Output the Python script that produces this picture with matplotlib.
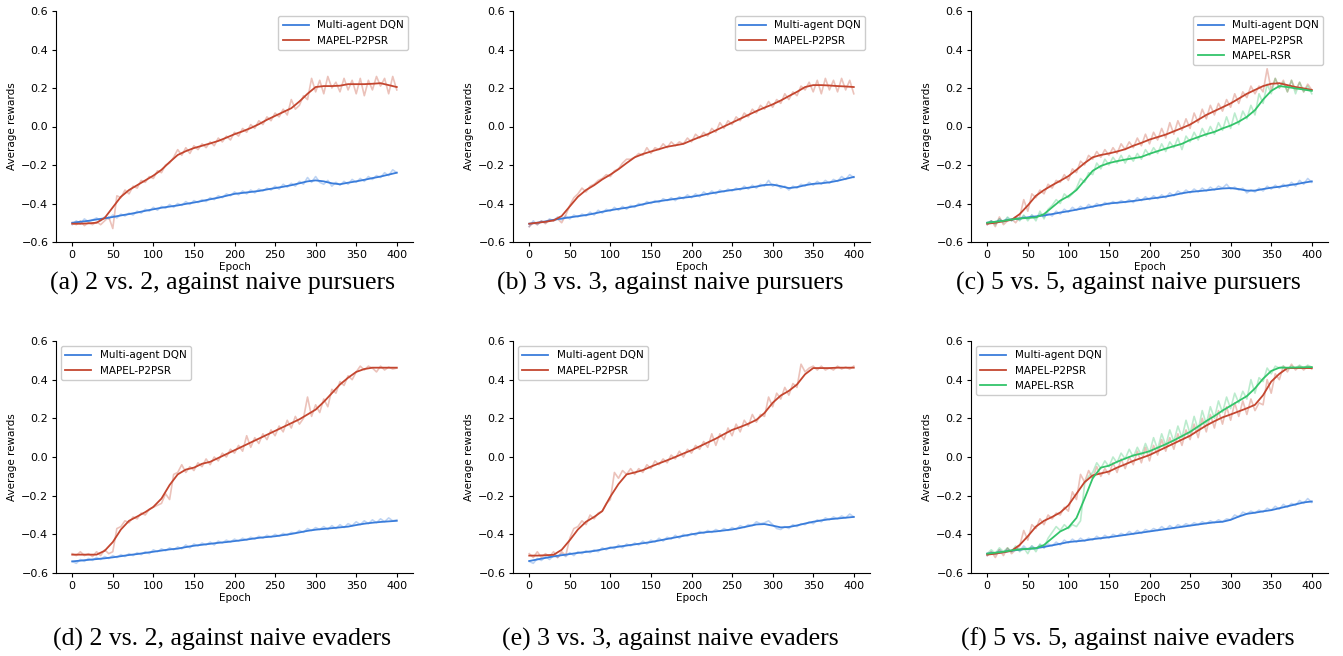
import matplotlib
matplotlib.use("Agg")
import matplotlib.pyplot as plt

EPOCHS_SMOOTH = list(range(0, 401, 10))
EPOCHS_RAW = list(range(0, 401, 5))

SERIES_NAMES = ["Multi-agent DQN", "MAPEL-P2PSR", "MAPEL-RSR"]
CAPTIONS = ["(a) 2 vs. 2, against naive pursuers", "(b) 3 vs. 3, against naive pursuers",
            "(c) 5 vs. 5, against naive pursuers", "(d) 2 vs. 2, against naive evaders",
            "(e) 3 vs. 3, against naive evaders", "(f) 5 vs. 5, against naive evaders"]
Y_TICKS = [-0.6, -0.4, -0.2, 0.0, 0.2, 0.4, 0.6]
X_TICKS = [0, 50, 100, 150, 200, 250, 300, 350, 400]

# ---------------- (a) ----------------
A_DQN_SMOOTH = [-0.500, -0.495, -0.490, -0.483, -0.477, -0.470, -0.462, -0.455, -0.447, -0.438, -0.430,
                -0.422, -0.416, -0.410, -0.402, -0.395, -0.387, -0.378, -0.370, -0.360, -0.350, -0.345,
                -0.340, -0.335, -0.327, -0.320, -0.313, -0.305, -0.295, -0.285, -0.280, -0.285, -0.295,
                -0.300, -0.292, -0.285, -0.277, -0.268, -0.260, -0.250, -0.240]
A_DQN_RAW = [-0.51, -0.49, -0.505, -0.48, -0.495, -0.485, -0.475, -0.49, -0.47, -0.48, -0.46, -0.475, -0.455,
             -0.465, -0.45, -0.46, -0.44, -0.45, -0.43, -0.44, -0.42, -0.435, -0.415, -0.425, -0.405, -0.42,
             -0.40, -0.41, -0.39, -0.405, -0.385, -0.395, -0.38, -0.39, -0.37, -0.38, -0.36, -0.37, -0.35,
             -0.36, -0.34, -0.355, -0.335, -0.35, -0.33, -0.345, -0.325, -0.335, -0.32, -0.33, -0.31, -0.325,
             -0.30, -0.315, -0.295, -0.31, -0.285, -0.30, -0.265, -0.29, -0.26, -0.29, -0.30, -0.28, -0.31,
             -0.29, -0.305, -0.285, -0.30, -0.275, -0.29, -0.27, -0.285, -0.26, -0.275, -0.255, -0.265, -0.24,
             -0.255, -0.225, -0.24]
A_P2_SMOOTH = [-0.505, -0.505, -0.503, -0.500, -0.475, -0.420, -0.365, -0.330, -0.305, -0.280, -0.255,
               -0.225, -0.185, -0.148, -0.128, -0.112, -0.100, -0.088, -0.075, -0.058, -0.040, -0.025,
               -0.008, 0.012, 0.035, 0.055, 0.075, 0.095, 0.130, 0.170, 0.205, 0.210, 0.210, 0.212, 0.220,
               0.220, 0.220, 0.222, 0.225, 0.215, 0.205]
A_P2_RAW = [-0.50, -0.51, -0.49, -0.515, -0.50, -0.51, -0.495, -0.51, -0.49, -0.47, -0.53, -0.36, -0.37,
            -0.33, -0.35, -0.31, -0.32, -0.28, -0.29, -0.26, -0.27, -0.23, -0.24, -0.20, -0.19, -0.16, -0.12,
            -0.15, -0.11, -0.14, -0.10, -0.12, -0.09, -0.11, -0.08, -0.10, -0.06, -0.08, -0.05, -0.07, -0.03,
            -0.05, -0.01, -0.03, 0.01, -0.01, 0.03, 0.01, 0.05, 0.03, 0.07, 0.05, 0.09, 0.06, 0.14, 0.09, 0.11,
            0.16, 0.14, 0.25, 0.18, 0.24, 0.17, 0.26, 0.20, 0.23, 0.18, 0.25, 0.19, 0.24, 0.17, 0.25, 0.16,
            0.24, 0.19, 0.26, 0.21, 0.25, 0.17, 0.26, 0.19]

# ---------------- (b) ----------------
B_DQN_SMOOTH = [-0.505, -0.500, -0.493, -0.485, -0.478, -0.472, -0.466, -0.460, -0.452, -0.443, -0.435,
                -0.428, -0.422, -0.414, -0.404, -0.395, -0.388, -0.382, -0.376, -0.370, -0.365, -0.358,
                -0.350, -0.343, -0.336, -0.330, -0.324, -0.318, -0.312, -0.304, -0.302, -0.310, -0.320,
                -0.315, -0.305, -0.298, -0.295, -0.290, -0.282, -0.272, -0.262]
B_DQN_RAW = [-0.52, -0.49, -0.51, -0.49, -0.50, -0.48, -0.49, -0.47, -0.485, -0.465, -0.48, -0.46, -0.47,
             -0.455, -0.465, -0.445, -0.46, -0.435, -0.45, -0.43, -0.44, -0.42, -0.435, -0.415, -0.43, -0.41,
             -0.42, -0.40, -0.41, -0.39, -0.40, -0.385, -0.395, -0.375, -0.385, -0.37, -0.385, -0.365, -0.375,
             -0.355, -0.37, -0.35, -0.365, -0.34, -0.355, -0.335, -0.35, -0.33, -0.34, -0.325, -0.335, -0.32,
             -0.33, -0.31, -0.325, -0.305, -0.32, -0.30, -0.31, -0.28, -0.31, -0.30, -0.32, -0.31, -0.33,
             -0.31, -0.32, -0.30, -0.31, -0.29, -0.305, -0.285, -0.30, -0.28, -0.295, -0.275, -0.285, -0.26,
             -0.275, -0.25, -0.265]
B_P2_SMOOTH = [-0.505, -0.500, -0.495, -0.488, -0.465, -0.415, -0.365, -0.330, -0.305, -0.275, -0.250,
               -0.222, -0.190, -0.160, -0.143, -0.130, -0.118, -0.105, -0.098, -0.090, -0.072, -0.055,
               -0.040, -0.020, 0.000, 0.020, 0.040, 0.060, 0.080, 0.098, 0.115, 0.135, 0.158, 0.180, 0.205,
               0.215, 0.215, 0.213, 0.210, 0.208, 0.205]
B_P2_RAW = [-0.52, -0.50, -0.51, -0.49, -0.505, -0.485, -0.49, -0.48, -0.50, -0.46, -0.41, -0.37, -0.35,
            -0.32, -0.34, -0.31, -0.30, -0.28, -0.27, -0.25, -0.26, -0.23, -0.22, -0.19, -0.17, -0.17, -0.16,
            -0.14, -0.15, -0.11, -0.14, -0.11, -0.12, -0.09, -0.11, -0.08, -0.10, -0.08, -0.09, -0.06, -0.08,
            -0.04, -0.06, -0.03, -0.05, -0.01, -0.03, 0.02, -0.01, 0.03, 0.01, 0.05, 0.03, 0.07, 0.05, 0.09,
            0.07, 0.11, 0.09, 0.13, 0.10, 0.14, 0.12, 0.17, 0.14, 0.18, 0.16, 0.21, 0.19, 0.23, 0.18, 0.24,
            0.17, 0.25, 0.19, 0.24, 0.18, 0.25, 0.19, 0.24, 0.17]

# ---------------- (c) ----------------
C_DQN_SMOOTH = [-0.500, -0.495, -0.490, -0.483, -0.478, -0.472, -0.467, -0.462, -0.455, -0.447, -0.440,
                -0.432, -0.424, -0.416, -0.408, -0.400, -0.396, -0.392, -0.387, -0.381, -0.375, -0.370,
                -0.364, -0.356, -0.347, -0.340, -0.336, -0.332, -0.327, -0.322, -0.320, -0.325, -0.333,
                -0.333, -0.325, -0.318, -0.313, -0.306, -0.300, -0.292, -0.285]
C_DQN_RAW = [-0.51, -0.49, -0.505, -0.48, -0.495, -0.475, -0.49, -0.47, -0.485, -0.465, -0.48, -0.46, -0.475,
             -0.455, -0.47, -0.45, -0.465, -0.44, -0.455, -0.43, -0.445, -0.42, -0.435, -0.415, -0.43, -0.405,
             -0.42, -0.40, -0.415, -0.395, -0.405, -0.39, -0.40, -0.385, -0.395, -0.38, -0.395, -0.37, -0.385,
             -0.365, -0.38, -0.36, -0.375, -0.355, -0.37, -0.345, -0.36, -0.335, -0.35, -0.33, -0.345, -0.325,
             -0.34, -0.32, -0.335, -0.315, -0.33, -0.31, -0.32, -0.30, -0.325, -0.315, -0.33, -0.32, -0.345,
             -0.33, -0.34, -0.32, -0.335, -0.31, -0.325, -0.305, -0.32, -0.30, -0.315, -0.29, -0.31, -0.28,
             -0.30, -0.27, -0.29]
C_P2_SMOOTH = [-0.505, -0.500, -0.492, -0.485, -0.455, -0.410, -0.360, -0.330, -0.305, -0.282, -0.258,
               -0.225, -0.190, -0.160, -0.148, -0.140, -0.130, -0.118, -0.100, -0.085, -0.068, -0.055,
               -0.042, -0.025, -0.008, 0.010, 0.035, 0.060, 0.080, 0.100, 0.120, 0.145, 0.170, 0.190, 0.210,
               0.222, 0.225, 0.215, 0.205, 0.198, 0.190]
C_P2_RAW = [-0.51, -0.49, -0.52, -0.47, -0.51, -0.49, -0.48, -0.50, -0.47, -0.38, -0.44, -0.35, -0.37,
            -0.33, -0.35, -0.30, -0.32, -0.28, -0.29, -0.25, -0.28, -0.22, -0.24, -0.18, -0.20, -0.15, -0.17,
            -0.13, -0.16, -0.12, -0.15, -0.11, -0.14, -0.09, -0.12, -0.08, -0.11, -0.06, -0.10, -0.04, -0.09,
            -0.03, -0.07, -0.01, -0.06, 0.02, -0.04, 0.03, -0.02, 0.04, -0.01, 0.07, 0.02, 0.09, 0.04, 0.11,
            0.06, 0.12, 0.08, 0.14, 0.10, 0.17, 0.12, 0.18, 0.15, 0.21, 0.17, 0.21, 0.18, 0.30, 0.19, 0.25,
            0.20, 0.24, 0.18, 0.24, 0.19, 0.23, 0.18, 0.22, 0.19]
C_RSR_SMOOTH = [-0.500, -0.495, -0.490, -0.483, -0.478, -0.475, -0.472, -0.455, -0.420, -0.385, -0.362,
                -0.330, -0.280, -0.230, -0.205, -0.190, -0.180, -0.172, -0.165, -0.158, -0.142, -0.128,
                -0.115, -0.102, -0.090, -0.070, -0.055, -0.040, -0.028, -0.010, 0.005, 0.025, 0.050,
                0.085, 0.140, 0.185, 0.210, 0.205, 0.198, 0.192, 0.185]
C_RSR_RAW = [-0.50, -0.49, -0.51, -0.48, -0.50, -0.47, -0.49, -0.47, -0.49, -0.46, -0.49, -0.46, -0.49,
             -0.44, -0.48, -0.43, -0.41, -0.38, -0.40, -0.35, -0.37, -0.35, -0.32, -0.27, -0.29, -0.24, -0.25,
             -0.19, -0.22, -0.17, -0.20, -0.16, -0.19, -0.15, -0.19, -0.15, -0.18, -0.14, -0.17, -0.12, -0.15,
             -0.11, -0.14, -0.09, -0.13, -0.08, -0.11, -0.06, -0.12, -0.05, -0.08, -0.03, -0.07, -0.01, -0.05,
             0.00, -0.04, 0.02, -0.02, 0.05, -0.01, 0.07, 0.01, 0.08, 0.04, 0.11, 0.06, 0.17, 0.12, 0.22,
             0.17, 0.25, 0.20, 0.23, 0.18, 0.24, 0.17, 0.23, 0.18, 0.21, 0.17]

# ---------------- (d) ----------------
D_DQN_SMOOTH = [-0.540, -0.536, -0.532, -0.528, -0.524, -0.519, -0.513, -0.507, -0.502, -0.496, -0.490,
                -0.484, -0.478, -0.474, -0.466, -0.459, -0.454, -0.449, -0.444, -0.440, -0.435, -0.430,
                -0.424, -0.418, -0.414, -0.410, -0.404, -0.398, -0.390, -0.382, -0.376, -0.372, -0.368,
                -0.364, -0.360, -0.352, -0.345, -0.340, -0.336, -0.333, -0.330]
D_DQN_RAW = [-0.54, -0.55, -0.53, -0.54, -0.525, -0.535, -0.52, -0.53, -0.515, -0.525, -0.51, -0.52, -0.505,
             -0.515, -0.50, -0.51, -0.495, -0.505, -0.49, -0.50, -0.48, -0.49, -0.475, -0.485, -0.47, -0.48,
             -0.465, -0.475, -0.455, -0.47, -0.45, -0.46, -0.445, -0.455, -0.44, -0.455, -0.435, -0.445, -0.43,
             -0.44, -0.425, -0.435, -0.42, -0.43, -0.415, -0.425, -0.41, -0.42, -0.405, -0.415, -0.40, -0.41,
             -0.395, -0.405, -0.39, -0.395, -0.38, -0.39, -0.37, -0.38, -0.365, -0.375, -0.36, -0.375, -0.355,
             -0.37, -0.35, -0.365, -0.345, -0.355, -0.335, -0.35, -0.33, -0.345, -0.325, -0.34, -0.32, -0.335,
             -0.315, -0.33, -0.325]
D_P2_SMOOTH = [-0.505, -0.505, -0.505, -0.505, -0.485, -0.440, -0.375, -0.330, -0.308, -0.285, -0.258,
               -0.215, -0.145, -0.090, -0.065, -0.055, -0.035, -0.025, -0.005, 0.015, 0.035, 0.055, 0.075,
               0.095, 0.115, 0.135, 0.155, 0.175, 0.195, 0.220, 0.245, 0.285, 0.330, 0.375, 0.410, 0.440,
               0.455, 0.462, 0.462, 0.462, 0.462]
D_P2_RAW = [-0.50, -0.51, -0.49, -0.51, -0.50, -0.515, -0.49, -0.51, -0.48, -0.50, -0.49, -0.37, -0.36,
            -0.33, -0.34, -0.31, -0.32, -0.29, -0.30, -0.27, -0.26, -0.25, -0.24, -0.19, -0.22, -0.09, -0.08,
            -0.04, -0.08, -0.05, -0.07, -0.03, -0.05, -0.01, -0.04, 0.00, -0.02, 0.02, 0.00, 0.04, 0.02, 0.06,
            0.03, 0.11, 0.05, 0.10, 0.07, 0.12, 0.09, 0.14, 0.11, 0.16, 0.13, 0.19, 0.15, 0.21, 0.17, 0.20,
            0.31, 0.21, 0.27, 0.23, 0.30, 0.26, 0.35, 0.33, 0.39, 0.37, 0.42, 0.40, 0.44, 0.47, 0.45, 0.47,
            0.46, 0.44, 0.47, 0.45, 0.465, 0.455, 0.46]

# ---------------- (e) ----------------
E_DQN_SMOOTH = [-0.538, -0.530, -0.522, -0.514, -0.508, -0.502, -0.496, -0.491, -0.486, -0.478, -0.470,
                -0.464, -0.458, -0.452, -0.446, -0.440, -0.432, -0.424, -0.416, -0.408, -0.400, -0.393,
                -0.388, -0.385, -0.380, -0.375, -0.367, -0.358, -0.349, -0.347, -0.355, -0.364, -0.362,
                -0.354, -0.344, -0.335, -0.328, -0.322, -0.318, -0.314, -0.310]
E_DQN_RAW = [-0.54, -0.55, -0.525, -0.535, -0.515, -0.53, -0.51, -0.52, -0.50, -0.515, -0.495, -0.51, -0.49,
             -0.50, -0.485, -0.495, -0.48, -0.49, -0.47, -0.48, -0.465, -0.475, -0.455, -0.47, -0.45, -0.46,
             -0.445, -0.455, -0.435, -0.45, -0.43, -0.44, -0.42, -0.435, -0.415, -0.425, -0.405, -0.42, -0.40,
             -0.41, -0.395, -0.405, -0.385, -0.395, -0.38, -0.39, -0.375, -0.385, -0.37, -0.38, -0.365, -0.375,
             -0.355, -0.365, -0.35, -0.355, -0.335, -0.345, -0.34, -0.33, -0.35, -0.37, -0.375, -0.36, -0.37,
             -0.35, -0.36, -0.345, -0.35, -0.335, -0.345, -0.325, -0.335, -0.315, -0.325, -0.31, -0.32, -0.305,
             -0.315, -0.295, -0.31]
E_P2_SMOOTH = [-0.510, -0.510, -0.508, -0.506, -0.480, -0.430, -0.375, -0.335, -0.310, -0.280, -0.205,
               -0.140, -0.090, -0.080, -0.068, -0.050, -0.033, -0.017, 0.000, 0.018, 0.035, 0.055, 0.075,
               0.095, 0.118, 0.140, 0.155, 0.172, 0.192, 0.228, 0.280, 0.318, 0.342, 0.375, 0.428, 0.460,
               0.460, 0.460, 0.462, 0.462, 0.462]
E_P2_RAW = [-0.50, -0.52, -0.49, -0.52, -0.50, -0.515, -0.49, -0.52, -0.49, -0.51, -0.42, -0.37, -0.36,
            -0.33, -0.35, -0.30, -0.32, -0.29, -0.28, -0.24, -0.22, -0.08, -0.11, -0.07, -0.09, -0.06, -0.09,
            -0.06, -0.08, -0.04, -0.06, -0.02, -0.04, -0.01, -0.03, 0.01, -0.01, 0.03, 0.00, 0.04, 0.02, 0.06,
            0.04, 0.08, 0.05, 0.12, 0.06, 0.12, 0.09, 0.15, 0.11, 0.17, 0.13, 0.19, 0.16, 0.22, 0.18, 0.22,
            0.21, 0.31, 0.26, 0.33, 0.30, 0.36, 0.32, 0.38, 0.36, 0.48, 0.44, 0.46, 0.47, 0.45, 0.47, 0.45,
            0.46, 0.45, 0.47, 0.455, 0.465, 0.455, 0.47]

# ---------------- (f) ----------------
F_DQN_SMOOTH = [-0.500, -0.496, -0.491, -0.485, -0.479, -0.475, -0.472, -0.465, -0.457, -0.449, -0.440,
                -0.436, -0.432, -0.425, -0.420, -0.415, -0.409, -0.403, -0.397, -0.391, -0.385, -0.379,
                -0.373, -0.367, -0.361, -0.355, -0.349, -0.343, -0.338, -0.335, -0.325, -0.308, -0.294,
                -0.288, -0.281, -0.275, -0.265, -0.255, -0.245, -0.235, -0.230]
F_DQN_RAW = [-0.51, -0.49, -0.505, -0.48, -0.495, -0.475, -0.49, -0.47, -0.485, -0.46, -0.48, -0.46, -0.475,
             -0.455, -0.47, -0.45, -0.46, -0.44, -0.455, -0.43, -0.445, -0.425, -0.44, -0.42, -0.435, -0.42,
             -0.43, -0.41, -0.425, -0.405, -0.42, -0.40, -0.41, -0.395, -0.405, -0.385, -0.40, -0.38, -0.395,
             -0.375, -0.385, -0.37, -0.38, -0.36, -0.375, -0.355, -0.37, -0.35, -0.36, -0.345, -0.355, -0.34,
             -0.35, -0.335, -0.345, -0.33, -0.34, -0.325, -0.335, -0.32, -0.325, -0.30, -0.31, -0.285, -0.295,
             -0.28, -0.29, -0.275, -0.285, -0.265, -0.275, -0.255, -0.27, -0.245, -0.26, -0.24, -0.25, -0.225,
             -0.24, -0.215, -0.235]
F_P2_SMOOTH = [-0.505, -0.500, -0.493, -0.485, -0.455, -0.410, -0.360, -0.330, -0.310, -0.287, -0.250,
               -0.190, -0.130, -0.095, -0.085, -0.075, -0.055, -0.038, -0.020, -0.005, 0.010, 0.030, 0.050,
               0.070, 0.090, 0.110, 0.137, 0.163, 0.185, 0.205, 0.220, 0.236, 0.252, 0.270, 0.320, 0.390,
               0.430, 0.460, 0.460, 0.460, 0.460]
F_P2_RAW = [-0.51, -0.49, -0.52, -0.48, -0.51, -0.47, -0.50, -0.48, -0.46, -0.38, -0.43, -0.35, -0.37,
            -0.32, -0.35, -0.30, -0.32, -0.29, -0.30, -0.26, -0.28, -0.18, -0.22, -0.09, -0.13, -0.07, -0.11,
            -0.05, -0.10, -0.06, -0.09, -0.03, -0.08, -0.01, -0.06, 0.00, -0.04, 0.03, -0.03, 0.05, -0.02,
            0.06, 0.01, 0.09, 0.03, 0.10, 0.04, 0.12, 0.06, 0.14, 0.09, 0.17, 0.10, 0.20, 0.13, 0.22, 0.15,
            0.24, 0.17, 0.26, 0.19, 0.28, 0.21, 0.29, 0.22, 0.30, 0.24, 0.28, 0.27, 0.40, 0.33, 0.43, 0.40,
            0.47, 0.44, 0.48, 0.45, 0.47, 0.45, 0.47, 0.455]
F_RSR_SMOOTH = [-0.500, -0.495, -0.490, -0.483, -0.478, -0.475, -0.472, -0.455, -0.420, -0.385, -0.365,
                -0.315, -0.215, -0.110, -0.055, -0.045, -0.025, -0.008, 0.008, 0.018, 0.030, 0.048, 0.066,
                0.086, 0.108, 0.130, 0.158, 0.186, 0.212, 0.240, 0.265, 0.290, 0.315, 0.355, 0.405, 0.445,
                0.462, 0.462, 0.463, 0.464, 0.465]
F_RSR_RAW = [-0.50, -0.48, -0.50, -0.47, -0.49, -0.47, -0.49, -0.46, -0.49, -0.47, -0.50, -0.46, -0.49,
             -0.45, -0.47, -0.42, -0.39, -0.36, -0.38, -0.35, -0.37, -0.35, -0.36, -0.33, -0.14, -0.10, -0.08,
             -0.03, -0.06, -0.02, -0.05, 0.00, -0.03, 0.02, -0.01, 0.04, 0.00, 0.05, 0.01, 0.07, 0.02, 0.10,
             0.04, 0.12, 0.06, 0.14, 0.08, 0.16, 0.10, 0.19, 0.12, 0.21, 0.14, 0.24, 0.17, 0.26, 0.20, 0.29,
             0.23, 0.31, 0.25, 0.33, 0.28, 0.34, 0.30, 0.40, 0.33, 0.41, 0.39, 0.46, 0.43, 0.47, 0.46, 0.47,
             0.455, 0.47, 0.46, 0.475, 0.46, 0.475, 0.465]

PANELS = [
    [(A_DQN_SMOOTH, A_DQN_RAW), (A_P2_SMOOTH, A_P2_RAW)],
    [(B_DQN_SMOOTH, B_DQN_RAW), (B_P2_SMOOTH, B_P2_RAW)],
    [(C_DQN_SMOOTH, C_DQN_RAW), (C_P2_SMOOTH, C_P2_RAW), (C_RSR_SMOOTH, C_RSR_RAW)],
    [(D_DQN_SMOOTH, D_DQN_RAW), (D_P2_SMOOTH, D_P2_RAW)],
    [(E_DQN_SMOOTH, E_DQN_RAW), (E_P2_SMOOTH, E_P2_RAW)],
    [(F_DQN_SMOOTH, F_DQN_RAW), (F_P2_SMOOTH, F_P2_RAW), (F_RSR_SMOOTH, F_RSR_RAW)],
]
LEGEND_LOC = ["upper right", "upper right", "upper right", "upper left", "upper left", "upper left"]
COLORS = ["#3a7ddb", "#c4462f", "#33c46a"]

W, H = 1343, 656
fig = plt.figure(figsize=(W / 100, H / 100), dpi=100)
plt.rcParams["font.family"] = "DejaVu Sans"

ax_lefts = [56, 513, 971]
ax_w = 357
rows = [(11, 242), (341, 573)]
cap_x = [222, 670, 1128]
cap_y = [283, 639]

for i, panel in enumerate(PANELS):
    r, c = divmod(i, 3)
    top, bot = rows[r]
    ax = fig.add_axes([ax_lefts[c] / W, 1 - bot / H, ax_w / W, (bot - top) / H])
    handles = []
    for k, (smooth, raw) in enumerate(panel):
        ax.plot(EPOCHS_RAW, raw, color=COLORS[k], alpha=0.33, lw=1.2)
    for k, (smooth, raw) in enumerate(panel):
        h, = ax.plot(EPOCHS_SMOOTH, smooth, color=COLORS[k], lw=1.3, label=SERIES_NAMES[k])
        handles.append(h)
    ax.set_ylim(-0.6, 0.6)
    ax.set_xlim(-20, 420)
    ax.set_yticks(Y_TICKS)
    ax.set_xticks(X_TICKS)
    ax.tick_params(labelsize=8, length=3, width=0.8, pad=2.5)
    ax.spines["top"].set_visible(False)
    ax.spines["right"].set_visible(False)
    ax.set_xlabel("Epoch", fontsize=7.5, labelpad=1.5)
    ax.set_ylabel("Average rewards", fontsize=7.5, labelpad=3)
    ax.legend(handles=handles, loc=LEGEND_LOC[i], fontsize=7.5, handlelength=2.5, framealpha=1)
    fig.text(cap_x[c] / W, 1 - cap_y[r] / H, CAPTIONS[i], ha="center", va="center",
             fontsize=18.5, family="Liberation Serif")

fig.savefig("out.png", dpi=100)
